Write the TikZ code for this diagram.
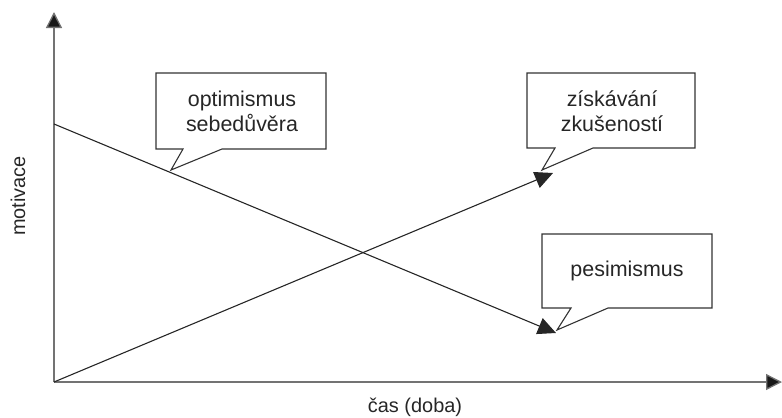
\documentclass[tikz,border=0pt]{standalone}
\usepackage{fontspec}
\setmainfont{Liberation Sans}
\usetikzlibrary{arrows.meta}

\begin{document}
\begin{tikzpicture}[x=1bp,y=-1bp,
  axis/.style={draw=black!55,line width=1.3bp,-{Triangle[length=16bp,width=16bp,fill=black!90]}},
  trend/.style={draw=black!85,line width=1.1bp,-{Triangle[length=18bp,width=17bp]}},
  bubble/.style={draw=black!80,line width=1.1bp,fill=white},
  txt/.style={text=black!85,font=\fontsize{21.5}{25}\selectfont,align=center},
  axtxt/.style={text=black!85,font=\fontsize{20}{24}\selectfont}]
\useasboundingbox (0,0) rectangle (782,417);
% axes
\coordinate (O) at (54,382);
\coordinate (ytop) at (54,12);
\coordinate (xend) at (782,382);
\draw[axis] (O) -- (ytop);
\draw[axis] (O) -- (xend);
\node[axtxt,rotate=90] (ylab) at (18,196) {motivace};
\node[axtxt] (xlab) at (415,407) {čas (doba)};
% trends
\coordinate (start) at (54,124);
\coordinate (up) at (553,173);
\coordinate (down) at (556,333);
\draw[trend] (start) -- (down);
\draw[trend] (O) -- (up);
% callouts
\draw[bubble] (156,73) -- (326,73) -- (326,149) -- (222,149) -- (171,170)
  -- (183,149) -- (156,149) -- cycle;
\node[txt] (opt) at (242,111) {optimismus\\sebedůvěra};
\draw[bubble] (527,73) -- (695,73) -- (695,148) -- (593,148) -- (542,170)
  -- (555,148) -- (527,148) -- cycle;
\node[txt] (zis) at (612,111) {získávání\\zkušeností};
\draw[bubble] (542,234) -- (712,234) -- (712,308) -- (608,308) -- (557,330)
  -- (571,308) -- (542,308) -- cycle;
\node[txt] (pes) at (627,271) {pesimismus};
\end{tikzpicture}
\end{document}
